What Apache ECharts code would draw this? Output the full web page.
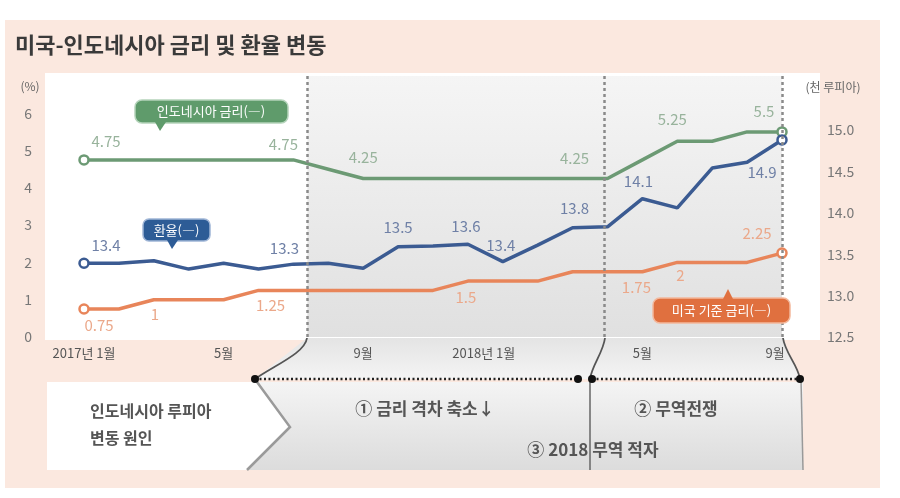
<!DOCTYPE html>
<html><head><meta charset="utf-8">
<script src="https://cdn.jsdelivr.net/npm/echarts@6/dist/echarts.min.js"></script>
<style>html,body{margin:0;padding:0;background:#fff}#c{width:900px;height:498px}</style>
</head><body><div id="c"></div>
<script>
// ---- data ----
const months = ['2017-01','2017-02','2017-03','2017-04','2017-05','2017-06','2017-07','2017-08','2017-09','2017-10','2017-11','2017-12',
                '2018-01','2018-02','2018-03','2018-04','2018-05','2018-06','2018-07','2018-08','2018-09'];
const tickLabels = ['2017년 1월','5월','9월','2018년 1월','5월','9월'];
const idnRate = [4.75,4.75,4.75,4.75,4.75,4.75,4.75,4.5,4.25,4.25,4.25,4.25,4.25,4.25,4.25,4.25,4.75,5.25,5.25,5.5,5.5];
const usRate  = [0.75,0.75,1,1,1,1.25,1.25,1.25,1.25,1.25,1.25,1.5,1.5,1.5,1.75,1.75,1.75,2,2,2,2.25];
const fxRate  = [13.39,13.39,13.42,13.32,13.39,13.32,13.38,13.39,13.33,13.59,13.60,13.62,13.41,13.61,13.82,13.83,14.17,14.06,14.54,14.61,14.88];
const idnLabels = {0:'4.75',6:'4.75',8:'4.25',14:'4.25',17:'5.25',20:'5.5'};
const fxLabels  = {0:'13.4',6:'13.3',9:'13.5',11:'13.6',12:'13.4',14:'13.8',16:'14.1',20:'14.9'};
const usLabels  = {0:'0.75',2:'1',5:'1.25',11:'1.5',16:'1.75',17:'2',20:'2.25'};
const phaseBounds = [6.4, 14.9, 20];

// ---- label placement (styling) ----
const idnOffsets = {0:[22,-19],6:[-10,-16],8:[0,-21],14:[2,-20],17:[-5,-22],20:[-18,-21]};
const fxOffsets  = {0:[22,-18],6:[-9,-16],9:[0,-19],11:[-2,-18],12:[-2,-16],14:[2,-19],16:[-4,-17],20:[-20,32]};
const usOffsets  = {0:[15,16],2:[1,15],5:[12,15],11:[-2,16],16:[-6,16],17:[3,13],20:[-25,-20]};
const tickPad = {3:[0,38,0,0], 5:[0,14,0,0]};

const FONT = '"Noto Sans CJK KR", "Noto Sans", sans-serif';
const last = months.length - 1;

function buildData(vals, labels, offsets, color, labelColor){
  return vals.map((v,i)=>{
    const end = (i===0 || i===last);
    const item = {value:[i,v], symbolSize: end ? 9 : 0,
      itemStyle:{color:'#fff', borderColor:color, borderWidth: end ? 2.5 : 0}};
    if (labels[i] !== undefined){
      item.label = {show:true, formatter:labels[i], position:'inside', offset:offsets[i],
        color:labelColor, fontSize:15, fontFamily:FONT};
    }
    return item;
  });
}

const G = '#6c9a74', B = '#3b5b92', O = '#e8855a';

const rich = {};
tickLabels.forEach((t,k)=>{ rich['t'+k] = {color:'#555', fontSize:13, fontFamily:FONT, padding: tickPad[k] || [0,0,0,0]}; });

const chart = echarts.init(document.getElementById('c'), null, {renderer:'canvas'});
chart.setOption({
  animation:false,
  grid:{left:84, right:118, top:76, bottom:161},
  xAxis:{type:'value', min:0, max:last, interval:4,
    axisLine:{show:false}, axisTick:{show:false}, splitLine:{show:false},
    axisLabel:{color:'#555', fontSize:13, fontFamily:FONT, margin:10, rich:rich,
      formatter:v=> { const k=v/4; return tickLabels[k] ? '{t'+k+'|'+tickLabels[k]+'}' : ''; }}},
  yAxis:[
    {type:'value', min:0, max:7, interval:1, position:'left',
     axisLine:{show:false}, axisTick:{show:false}, splitLine:{show:false},
     axisLabel:{color:'#777', fontSize:14, fontFamily:FONT, margin:52,
       formatter:v=> v<=6 ? String(v) : ''}},
    {type:'value', min:12.5, max:15.652, interval:0.5, position:'right',
     axisLine:{show:false}, axisTick:{show:false}, splitLine:{show:false},
     axisLabel:{color:'#777', fontSize:14, fontFamily:FONT, margin:45, align:'left',
       formatter:v=> v<=15.001 ? v.toFixed(1) : ''}}
  ],
  series:[
    {type:'line', data:[], z:1, silent:true,
     markArea:{silent:true,
       itemStyle:{color:{type:'linear',x:0,y:0,x2:0,y2:1,
         colorStops:[{offset:0,color:'#f5f5f5'},{offset:1,color:'#e0e0e0'}]}},
       data:[[{xAxis:phaseBounds[0]},{xAxis:phaseBounds[2]}]]},
     markLine:{silent:true, symbol:'none', label:{show:false},
       lineStyle:{type:[3,3], color:'#8a8a8a', width:2.5},
       data:phaseBounds.map(x=>({xAxis:x}))}},
    {name:'인도네시아 금리', type:'line', yAxisIndex:0, z:3, symbol:'circle',
     lineStyle:{color:G, width:3.5}, data:buildData(idnRate, idnLabels, idnOffsets, G, '#98b39c')},
    {name:'환율', type:'line', yAxisIndex:1, z:3, symbol:'circle',
     lineStyle:{color:B, width:3.5}, data:buildData(fxRate, fxLabels, fxOffsets, B, '#6f80a6')},
    {name:'미국 기준 금리', type:'line', yAxisIndex:0, z:3, symbol:'circle',
     lineStyle:{color:O, width:3.5}, data:buildData(usRate, usLabels, usOffsets, O, '#eba88a')}
  ],
  graphic:[
    // backgrounds
    {type:'rect', z:-20, shape:{x:5,y:20,width:875,height:468}, style:{fill:'#fbe8df'}},
    {type:'rect', z:-19, shape:{x:45,y:73,width:775,height:267}, style:{fill:'#ffffff'}},
    {type:'polygon', z:-18, shape:{points:[[307,338],[783,338],[800,379],[255,379]]},
     style:{fill:{type:'linear',x:0,y:0,x2:0,y2:1,colorStops:[{offset:0,color:'#e4e4e4'},{offset:1,color:'#f4f4f4'}]}}},
    // connector curves
    {type:'bezierCurve', z:5, shape:{x1:307,y1:338,cpx1:305,cpy1:353,cpx2:275,cpy2:365,x2:255,y2:379}, style:{stroke:'#555',lineWidth:1.8,fill:null}},
    {type:'bezierCurve', z:5, shape:{x1:605,y1:338,cpx1:603,cpy1:353,cpx2:592,cpy2:365,x2:590,y2:379}, style:{stroke:'#555',lineWidth:1.8,fill:null}},
    {type:'bezierCurve', z:5, shape:{x1:783,y1:338,cpx1:785,cpy1:353,cpx2:798,cpy2:365,x2:800,y2:379}, style:{stroke:'#555',lineWidth:1.8,fill:null}},
    // bottom box
    {type:'polygon', z:-18, shape:{points:[[47,382],[257,382],[290,427],[247,470],[47,470]]}, style:{fill:'#ffffff'}},
    {type:'polygon', z:-18, shape:{points:[[257,382],[803,382],[803,470],[247,470],[290,427]]},
     style:{fill:{type:'linear',x:0,y:0,x2:0,y2:1,colorStops:[{offset:0,color:'#f4f4f4'},{offset:1,color:'#dcdcdc'}]}}},
    {type:'polyline', z:5, shape:{points:[[257,382],[290,427],[247,470]]}, style:{stroke:'#9a9a9a',lineWidth:2.5,fill:null}},
    {type:'line', z:5, shape:{x1:590,y1:379,x2:590,y2:470}, style:{stroke:'#666',lineWidth:1.5}},
    {type:'line', z:5, shape:{x1:801,y1:379,x2:803,y2:470}, style:{stroke:'#999',lineWidth:1.5}},
    // dotted arrows
    {type:'line', z:6, shape:{x1:255,y1:379,x2:578,y2:379}, style:{stroke:'#222',lineWidth:2.5,lineDash:[2,2.5]}},
    {type:'line', z:6, shape:{x1:592,y1:379,x2:800,y2:379}, style:{stroke:'#222',lineWidth:2.5,lineDash:[2,2.5]}},
    {type:'circle', z:7, shape:{cx:255,cy:379,r:4}, style:{fill:'#111'}},
    {type:'circle', z:7, shape:{cx:578,cy:379,r:4}, style:{fill:'#111'}},
    {type:'circle', z:7, shape:{cx:592,cy:379,r:4}, style:{fill:'#111'}},
    {type:'circle', z:7, shape:{cx:800,cy:379,r:4}, style:{fill:'#111'}},
    // title & axis names
    {type:'text', z:10, x:15, y:45, style:{text:'미국-인도네시아 금리 및 환율 변동', fill:'#3a3a3a',
      font:'bold 22px '+FONT, verticalAlign:'middle', align:'left'}},
    {type:'text', z:10, x:30, y:86, style:{text:'(%)', fill:'#666', font:'12px '+FONT, verticalAlign:'middle', align:'center'}},
    {type:'text', z:10, x:833, y:87, style:{text:'(천 루피아)', fill:'#666', font:'12px '+FONT, verticalAlign:'middle', align:'center'}},
    // bottom texts
    {type:'text', z:10, x:90, y:411, style:{text:'인도네시아 루피아', fill:'#555', font:'bold 16px '+FONT, verticalAlign:'middle', align:'left'}},
    {type:'text', z:10, x:90, y:438, style:{text:'변동 원인', fill:'#555', font:'bold 16px '+FONT, verticalAlign:'middle', align:'left'}},
    {type:'text', z:10, x:425, y:409, style:{text:'① 금리 격차 축소↓', fill:'#555', font:'bold 17px '+FONT, verticalAlign:'middle', align:'center'}},
    {type:'text', z:10, x:676, y:409, style:{text:'② 무역전쟁', fill:'#555', font:'bold 17px '+FONT, verticalAlign:'middle', align:'center'}},
    {type:'text', z:10, x:593, y:450, style:{text:'③ 2018 무역 적자', fill:'#555', font:'bold 17px '+FONT, verticalAlign:'middle', align:'center'}},
    // callouts
    {type:'rect', z:20, shape:{x:135,y:100,width:153,height:23,r:7}, style:{fill:'#5f9b6b',stroke:'#b5d4bb',lineWidth:1.5}},
    {type:'polygon', z:20, shape:{points:[[155,122],[166,122],[160,131]]}, style:{fill:'#5f9b6b'}},
    {type:'text', z:21, x:211, y:111.5, style:{text:'인도네시아 금리(―)', fill:'#fff', font:'13px '+FONT, verticalAlign:'middle', align:'center'}},
    {type:'rect', z:20, shape:{x:143,y:219,width:67,height:22,r:6}, style:{fill:'#2d5c96',stroke:'#9fb5d6',lineWidth:1.5}},
    {type:'polygon', z:20, shape:{points:[[167,240],[178,240],[172,249]]}, style:{fill:'#2d5c96'}},
    {type:'text', z:21, x:176.5, y:230, style:{text:'환율(―)', fill:'#fff', font:'13px '+FONT, verticalAlign:'middle', align:'center'}},
    {type:'rect', z:20, shape:{x:653,y:298,width:137,height:25,r:7}, style:{fill:'#e0703f',stroke:'#f3b89c',lineWidth:1.5}},
    {type:'polygon', z:20, shape:{points:[[723,299],[733,299],[728,289]]}, style:{fill:'#e0703f'}},
    {type:'text', z:21, x:721.5, y:310.5, style:{text:'미국 기준 금리(―)', fill:'#fff', font:'13px '+FONT, verticalAlign:'middle', align:'center'}}
  ]
});
</script>
</body></html>
